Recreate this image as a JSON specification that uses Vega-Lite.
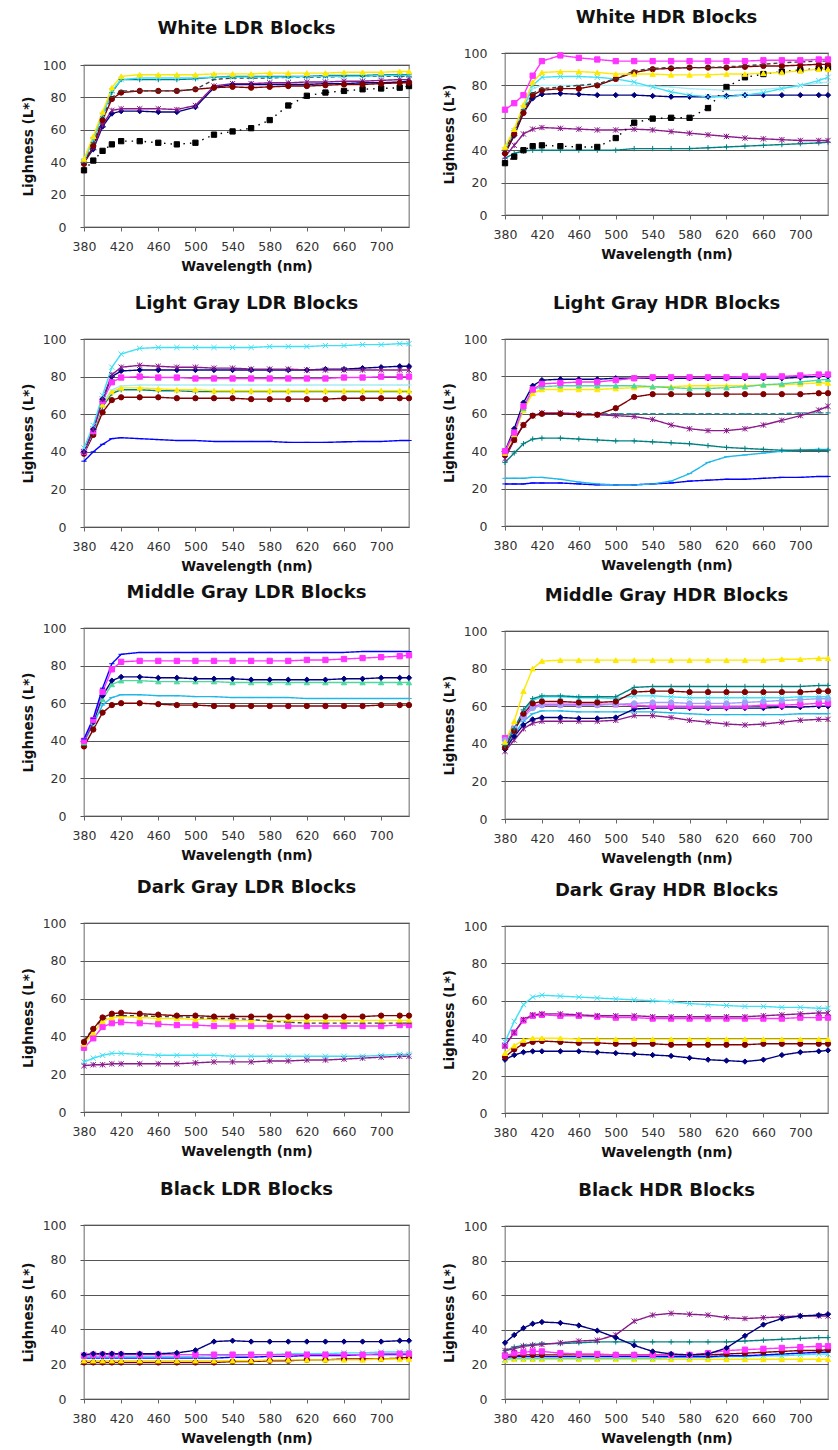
{
"$schema":"https://vega.github.io/schema/vega-lite/v6.json",
"padding":{"left":20,"top":8,"right":0,"bottom":0},
"background":"white",
"config":{
"view":{"stroke":"#8a8a8a","strokeWidth":1.3},
"font":"DejaVu Sans",
"title":{"fontSize":18,"fontWeight":"bold","offset":20,"color":"#111","font":"DejaVu Sans"},
"axis":{"labelFont":"DejaVu Sans","titleFont":"DejaVu Sans","labelFontSize":12.5,"labelColor":"#333","titleFontSize":13.5,"titleFontWeight":"bold","titleColor":"#111","domain":false,"tickColor":"#666","tickSize":4},
"axisX":{"grid":false,"labelPadding":9,"titlePadding":7,"labelFlush":false,"labelOverlap":false},
"axisY":{"gridColor":"#555","gridWidth":1.2,"labelPadding":14,"titlePadding":7,"tickColor":"#555"}
},
"datasets":{
"p1":[
{"s":"bk","x":380,"y":35},{"s":"bk","x":390,"y":41},{"s":"bk","x":400,"y":47},{"s":"bk","x":410,"y":51},{"s":"bk","x":420,"y":53},{"s":"bk","x":440,"y":53},{"s":"bk","x":460,"y":52},{"s":"bk","x":480,"y":51},{"s":"bk","x":500,"y":52},{"s":"bk","x":520,"y":57},{"s":"bk","x":540,"y":59},{"s":"bk","x":560,"y":61},{"s":"bk","x":580,"y":66},{"s":"bk","x":600,"y":75},{"s":"bk","x":620,"y":81},{"s":"bk","x":640,"y":83},{"s":"bk","x":660,"y":84},{"s":"bk","x":680,"y":85},{"s":"bk","x":700,"y":85.5},{"s":"bk","x":720,"y":86},{"s":"bk","x":730,"y":87},
{"s":"db","x":380,"y":40},{"s":"db","x":390,"y":48},{"s":"db","x":400,"y":62},{"s":"db","x":410,"y":70},{"s":"db","x":420,"y":71.5},{"s":"db","x":440,"y":71.5},{"s":"db","x":460,"y":71},{"s":"db","x":480,"y":71},{"s":"db","x":500,"y":74},{"s":"db","x":520,"y":86},{"s":"db","x":540,"y":88},{"s":"db","x":560,"y":88},{"s":"db","x":580,"y":88},{"s":"db","x":600,"y":88},{"s":"db","x":620,"y":88},{"s":"db","x":640,"y":88.5},{"s":"db","x":660,"y":88.5},{"s":"db","x":680,"y":89},{"s":"db","x":700,"y":89},{"s":"db","x":720,"y":89.5},{"s":"db","x":730,"y":90},
{"s":"pu","x":380,"y":40},{"s":"pu","x":390,"y":49},{"s":"pu","x":400,"y":63},{"s":"pu","x":410,"y":72},{"s":"pu","x":420,"y":73},{"s":"pu","x":440,"y":73},{"s":"pu","x":460,"y":73},{"s":"pu","x":480,"y":72.5},{"s":"pu","x":500,"y":75},{"s":"pu","x":520,"y":87},{"s":"pu","x":540,"y":88.5},{"s":"pu","x":560,"y":88.5},{"s":"pu","x":580,"y":89},{"s":"pu","x":600,"y":89},{"s":"pu","x":620,"y":89.5},{"s":"pu","x":640,"y":89.5},{"s":"pu","x":660,"y":90},{"s":"pu","x":680,"y":90},{"s":"pu","x":700,"y":90.5},{"s":"pu","x":720,"y":91},{"s":"pu","x":730,"y":91},
{"s":"dr","x":380,"y":39},{"s":"dr","x":390,"y":50},{"s":"dr","x":400,"y":66},{"s":"dr","x":410,"y":79},{"s":"dr","x":420,"y":83},{"s":"dr","x":440,"y":84},{"s":"dr","x":460,"y":84},{"s":"dr","x":480,"y":84},{"s":"dr","x":500,"y":85},{"s":"dr","x":520,"y":86},{"s":"dr","x":540,"y":86.5},{"s":"dr","x":560,"y":86},{"s":"dr","x":580,"y":86.5},{"s":"dr","x":600,"y":87},{"s":"dr","x":620,"y":87},{"s":"dr","x":640,"y":87.5},{"s":"dr","x":660,"y":88},{"s":"dr","x":680,"y":88},{"s":"dr","x":700,"y":88.5},{"s":"dr","x":720,"y":89},{"s":"dr","x":730,"y":89},
{"s":"dk","x":380,"y":40},{"s":"dk","x":390,"y":52},{"s":"dk","x":400,"y":68},{"s":"dk","x":410,"y":80},{"s":"dk","x":420,"y":84},{"s":"dk","x":440,"y":84},{"s":"dk","x":460,"y":84},{"s":"dk","x":480,"y":84},{"s":"dk","x":500,"y":85},{"s":"dk","x":520,"y":91},{"s":"dk","x":540,"y":92},{"s":"dk","x":560,"y":92},{"s":"dk","x":580,"y":92},{"s":"dk","x":600,"y":92.5},{"s":"dk","x":620,"y":92.5},{"s":"dk","x":640,"y":92.5},{"s":"dk","x":660,"y":93},{"s":"dk","x":680,"y":93},{"s":"dk","x":700,"y":93},{"s":"dk","x":720,"y":93},{"s":"dk","x":730,"y":93},
{"s":"tl","x":380,"y":41},{"s":"tl","x":390,"y":55},{"s":"tl","x":400,"y":70},{"s":"tl","x":410,"y":83},{"s":"tl","x":420,"y":91},{"s":"tl","x":440,"y":91},{"s":"tl","x":460,"y":91},{"s":"tl","x":480,"y":91},{"s":"tl","x":500,"y":91.5},{"s":"tl","x":520,"y":92.5},{"s":"tl","x":540,"y":93},{"s":"tl","x":560,"y":93},{"s":"tl","x":580,"y":93},{"s":"tl","x":600,"y":93},{"s":"tl","x":620,"y":93},{"s":"tl","x":640,"y":93.5},{"s":"tl","x":660,"y":93.5},{"s":"tl","x":680,"y":93.5},{"s":"tl","x":700,"y":94},{"s":"tl","x":720,"y":94},{"s":"tl","x":730,"y":94},
{"s":"cy","x":380,"y":41},{"s":"cy","x":390,"y":54},{"s":"cy","x":400,"y":69},{"s":"cy","x":410,"y":84},{"s":"cy","x":420,"y":91},{"s":"cy","x":440,"y":92},{"s":"cy","x":460,"y":92},{"s":"cy","x":480,"y":92},{"s":"cy","x":500,"y":92},{"s":"cy","x":520,"y":92.5},{"s":"cy","x":540,"y":92.5},{"s":"cy","x":560,"y":92.5},{"s":"cy","x":580,"y":92.5},{"s":"cy","x":600,"y":92.5},{"s":"cy","x":620,"y":93},{"s":"cy","x":640,"y":93},{"s":"cy","x":660,"y":93},{"s":"cy","x":680,"y":93},{"s":"cy","x":700,"y":93.5},{"s":"cy","x":720,"y":93.5},{"s":"cy","x":730,"y":93.5},
{"s":"ye","x":380,"y":42},{"s":"ye","x":390,"y":56},{"s":"ye","x":400,"y":71},{"s":"ye","x":410,"y":86},{"s":"ye","x":420,"y":93},{"s":"ye","x":440,"y":94},{"s":"ye","x":460,"y":94},{"s":"ye","x":480,"y":94},{"s":"ye","x":500,"y":94},{"s":"ye","x":520,"y":94.5},{"s":"ye","x":540,"y":94.5},{"s":"ye","x":560,"y":94.5},{"s":"ye","x":580,"y":95},{"s":"ye","x":600,"y":95},{"s":"ye","x":620,"y":95},{"s":"ye","x":640,"y":95},{"s":"ye","x":660,"y":95.5},{"s":"ye","x":680,"y":95.5},{"s":"ye","x":700,"y":95.5},{"s":"ye","x":720,"y":96},{"s":"ye","x":730,"y":96}
],
"p2":[
{"s":"tl","x":380,"y":35},{"s":"tl","x":390,"y":38},{"s":"tl","x":400,"y":39.5},{"s":"tl","x":410,"y":40},{"s":"tl","x":420,"y":40},{"s":"tl","x":440,"y":40},{"s":"tl","x":460,"y":40},{"s":"tl","x":480,"y":40},{"s":"tl","x":500,"y":40},{"s":"tl","x":520,"y":41},{"s":"tl","x":540,"y":41},{"s":"tl","x":560,"y":41},{"s":"tl","x":580,"y":41},{"s":"tl","x":600,"y":41.5},{"s":"tl","x":620,"y":42},{"s":"tl","x":640,"y":42.5},{"s":"tl","x":660,"y":43},{"s":"tl","x":680,"y":43.5},{"s":"tl","x":700,"y":44},{"s":"tl","x":720,"y":44.5},{"s":"tl","x":730,"y":45},
{"s":"pu","x":380,"y":36},{"s":"pu","x":390,"y":43},{"s":"pu","x":400,"y":50},{"s":"pu","x":410,"y":53},{"s":"pu","x":420,"y":54},{"s":"pu","x":440,"y":53.5},{"s":"pu","x":460,"y":53},{"s":"pu","x":480,"y":52.5},{"s":"pu","x":500,"y":52.5},{"s":"pu","x":520,"y":53},{"s":"pu","x":540,"y":52.5},{"s":"pu","x":560,"y":51.5},{"s":"pu","x":580,"y":50.5},{"s":"pu","x":600,"y":49.5},{"s":"pu","x":620,"y":48.5},{"s":"pu","x":640,"y":47.5},{"s":"pu","x":660,"y":47},{"s":"pu","x":680,"y":46.5},{"s":"pu","x":700,"y":46},{"s":"pu","x":720,"y":46},{"s":"pu","x":730,"y":46},
{"s":"bk","x":380,"y":32},{"s":"bk","x":390,"y":36},{"s":"bk","x":400,"y":40},{"s":"bk","x":410,"y":42.5},{"s":"bk","x":420,"y":43},{"s":"bk","x":440,"y":42.5},{"s":"bk","x":460,"y":42},{"s":"bk","x":480,"y":42},{"s":"bk","x":500,"y":47.5},{"s":"bk","x":520,"y":57},{"s":"bk","x":540,"y":59.5},{"s":"bk","x":560,"y":60},{"s":"bk","x":580,"y":60},{"s":"bk","x":600,"y":66},{"s":"bk","x":620,"y":79},{"s":"bk","x":640,"y":85},{"s":"bk","x":660,"y":87},{"s":"bk","x":680,"y":88.5},{"s":"bk","x":700,"y":89.5},{"s":"bk","x":720,"y":90.5},{"s":"bk","x":730,"y":91},
{"s":"db","x":380,"y":38},{"s":"db","x":390,"y":49},{"s":"db","x":400,"y":63},{"s":"db","x":410,"y":72},{"s":"db","x":420,"y":74.5},{"s":"db","x":440,"y":75},{"s":"db","x":460,"y":74.5},{"s":"db","x":480,"y":74},{"s":"db","x":500,"y":74},{"s":"db","x":520,"y":74},{"s":"db","x":540,"y":73.5},{"s":"db","x":560,"y":73},{"s":"db","x":580,"y":73},{"s":"db","x":600,"y":73},{"s":"db","x":620,"y":73.5},{"s":"db","x":640,"y":74},{"s":"db","x":660,"y":74},{"s":"db","x":680,"y":74},{"s":"db","x":700,"y":74},{"s":"db","x":720,"y":74},{"s":"db","x":730,"y":74},
{"s":"lc","x":380,"y":40},{"s":"lc","x":390,"y":52},{"s":"lc","x":400,"y":65},{"s":"lc","x":410,"y":78},{"s":"lc","x":420,"y":80},{"s":"lc","x":440,"y":80},{"s":"lc","x":460,"y":80},{"s":"lc","x":480,"y":80},{"s":"lc","x":500,"y":80},{"s":"lc","x":520,"y":80},{"s":"lc","x":540,"y":79.5},{"s":"lc","x":560,"y":79},{"s":"lc","x":580,"y":78},{"s":"lc","x":600,"y":77.5},{"s":"lc","x":620,"y":77},{"s":"lc","x":640,"y":77},{"s":"lc","x":660,"y":77.5},{"s":"lc","x":680,"y":78.5},{"s":"lc","x":700,"y":80},{"s":"lc","x":720,"y":81.5},{"s":"lc","x":730,"y":82},
{"s":"cy","x":380,"y":40},{"s":"cy","x":390,"y":52},{"s":"cy","x":400,"y":66},{"s":"cy","x":410,"y":80},{"s":"cy","x":420,"y":85},{"s":"cy","x":440,"y":85.5},{"s":"cy","x":460,"y":85.5},{"s":"cy","x":480,"y":85},{"s":"cy","x":500,"y":84},{"s":"cy","x":520,"y":82},{"s":"cy","x":540,"y":79},{"s":"cy","x":560,"y":76},{"s":"cy","x":580,"y":74},{"s":"cy","x":600,"y":73},{"s":"cy","x":620,"y":73},{"s":"cy","x":640,"y":74},{"s":"cy","x":660,"y":75.5},{"s":"cy","x":680,"y":78},{"s":"cy","x":700,"y":80},{"s":"cy","x":720,"y":83},{"s":"cy","x":730,"y":85},
{"s":"dr","x":380,"y":38},{"s":"dr","x":390,"y":50},{"s":"dr","x":400,"y":63},{"s":"dr","x":410,"y":74},{"s":"dr","x":420,"y":77},{"s":"dr","x":440,"y":78},{"s":"dr","x":460,"y":78},{"s":"dr","x":480,"y":80},{"s":"dr","x":500,"y":84},{"s":"dr","x":520,"y":88},{"s":"dr","x":540,"y":90},{"s":"dr","x":560,"y":90.5},{"s":"dr","x":580,"y":91},{"s":"dr","x":600,"y":91},{"s":"dr","x":620,"y":91},{"s":"dr","x":640,"y":91.5},{"s":"dr","x":660,"y":92},{"s":"dr","x":680,"y":92},{"s":"dr","x":700,"y":92.5},{"s":"dr","x":720,"y":93},{"s":"dr","x":730,"y":93},
{"s":"dk","x":380,"y":40},{"s":"dk","x":390,"y":52},{"s":"dk","x":400,"y":65},{"s":"dk","x":410,"y":75},{"s":"dk","x":420,"y":78},{"s":"dk","x":440,"y":79},{"s":"dk","x":460,"y":80},{"s":"dk","x":480,"y":81},{"s":"dk","x":500,"y":84},{"s":"dk","x":520,"y":89},{"s":"dk","x":540,"y":90.5},{"s":"dk","x":560,"y":91},{"s":"dk","x":580,"y":91},{"s":"dk","x":600,"y":91},{"s":"dk","x":620,"y":91.5},{"s":"dk","x":640,"y":92},{"s":"dk","x":660,"y":93},{"s":"dk","x":680,"y":94},{"s":"dk","x":700,"y":94.5},{"s":"dk","x":720,"y":95},{"s":"dk","x":730,"y":95},
{"s":"ye","x":380,"y":42},{"s":"ye","x":390,"y":53},{"s":"ye","x":400,"y":68},{"s":"ye","x":410,"y":82},{"s":"ye","x":420,"y":88},{"s":"ye","x":440,"y":88.5},{"s":"ye","x":460,"y":88.5},{"s":"ye","x":480,"y":88},{"s":"ye","x":500,"y":87},{"s":"ye","x":520,"y":87},{"s":"ye","x":540,"y":87},{"s":"ye","x":560,"y":86.5},{"s":"ye","x":580,"y":86.5},{"s":"ye","x":600,"y":86.5},{"s":"ye","x":620,"y":87},{"s":"ye","x":640,"y":87},{"s":"ye","x":660,"y":87.5},{"s":"ye","x":680,"y":88},{"s":"ye","x":700,"y":89},{"s":"ye","x":720,"y":90},{"s":"ye","x":730,"y":90},
{"s":"mg","x":380,"y":65},{"s":"mg","x":390,"y":69},{"s":"mg","x":400,"y":74},{"s":"mg","x":410,"y":86},{"s":"mg","x":420,"y":95},{"s":"mg","x":440,"y":98.5},{"s":"mg","x":460,"y":97},{"s":"mg","x":480,"y":96},{"s":"mg","x":500,"y":95},{"s":"mg","x":520,"y":95},{"s":"mg","x":540,"y":95},{"s":"mg","x":560,"y":95},{"s":"mg","x":580,"y":95},{"s":"mg","x":600,"y":95},{"s":"mg","x":620,"y":95},{"s":"mg","x":640,"y":95},{"s":"mg","x":660,"y":95.5},{"s":"mg","x":680,"y":95.5},{"s":"mg","x":700,"y":95.5},{"s":"mg","x":720,"y":96},{"s":"mg","x":730,"y":96}
],
"p3":[
{"s":"bl","x":380,"y":35},{"s":"bl","x":390,"y":40},{"s":"bl","x":400,"y":44},{"s":"bl","x":410,"y":47},{"s":"bl","x":420,"y":47.5},{"s":"bl","x":440,"y":47},{"s":"bl","x":460,"y":46.5},{"s":"bl","x":480,"y":46},{"s":"bl","x":500,"y":46},{"s":"bl","x":520,"y":45.5},{"s":"bl","x":540,"y":45.5},{"s":"bl","x":560,"y":45.5},{"s":"bl","x":580,"y":45.5},{"s":"bl","x":600,"y":45},{"s":"bl","x":620,"y":45},{"s":"bl","x":640,"y":45},{"s":"bl","x":660,"y":45.3},{"s":"bl","x":680,"y":45.5},{"s":"bl","x":700,"y":45.5},{"s":"bl","x":720,"y":46},{"s":"bl","x":730,"y":46},
{"s":"dr","x":380,"y":39},{"s":"dr","x":390,"y":49},{"s":"dr","x":400,"y":61},{"s":"dr","x":410,"y":67.5},{"s":"dr","x":420,"y":69},{"s":"dr","x":440,"y":69},{"s":"dr","x":460,"y":69},{"s":"dr","x":480,"y":68.5},{"s":"dr","x":500,"y":68.5},{"s":"dr","x":520,"y":68.5},{"s":"dr","x":540,"y":68.5},{"s":"dr","x":560,"y":68},{"s":"dr","x":580,"y":68},{"s":"dr","x":600,"y":68},{"s":"dr","x":620,"y":68},{"s":"dr","x":640,"y":68},{"s":"dr","x":660,"y":68.5},{"s":"dr","x":680,"y":68.5},{"s":"dr","x":700,"y":68.5},{"s":"dr","x":720,"y":68.5},{"s":"dr","x":730,"y":68.5},
{"s":"tl","x":380,"y":40},{"s":"tl","x":390,"y":50},{"s":"tl","x":400,"y":64},{"s":"tl","x":410,"y":71},{"s":"tl","x":420,"y":73},{"s":"tl","x":440,"y":73},{"s":"tl","x":460,"y":72.5},{"s":"tl","x":480,"y":72.5},{"s":"tl","x":500,"y":72},{"s":"tl","x":520,"y":72},{"s":"tl","x":540,"y":72},{"s":"tl","x":560,"y":72},{"s":"tl","x":580,"y":72},{"s":"tl","x":600,"y":72},{"s":"tl","x":620,"y":72},{"s":"tl","x":640,"y":72},{"s":"tl","x":660,"y":72},{"s":"tl","x":680,"y":72},{"s":"tl","x":700,"y":72},{"s":"tl","x":720,"y":72},{"s":"tl","x":730,"y":72},
{"s":"ye","x":380,"y":40},{"s":"ye","x":390,"y":51},{"s":"ye","x":400,"y":65},{"s":"ye","x":410,"y":72},{"s":"ye","x":420,"y":74},{"s":"ye","x":440,"y":74},{"s":"ye","x":460,"y":73.5},{"s":"ye","x":480,"y":73},{"s":"ye","x":500,"y":73},{"s":"ye","x":520,"y":72.5},{"s":"ye","x":540,"y":72.5},{"s":"ye","x":560,"y":72.5},{"s":"ye","x":580,"y":72.5},{"s":"ye","x":600,"y":72.5},{"s":"ye","x":620,"y":72.5},{"s":"ye","x":640,"y":72.5},{"s":"ye","x":660,"y":72.5},{"s":"ye","x":680,"y":72.5},{"s":"ye","x":700,"y":72.5},{"s":"ye","x":720,"y":72.5},{"s":"ye","x":730,"y":72.5},
{"s":"lc","x":380,"y":40},{"s":"lc","x":390,"y":51},{"s":"lc","x":400,"y":66},{"s":"lc","x":410,"y":73},{"s":"lc","x":420,"y":75},{"s":"lc","x":440,"y":75.5},{"s":"lc","x":460,"y":75.5},{"s":"lc","x":480,"y":75.5},{"s":"lc","x":500,"y":75.5},{"s":"lc","x":520,"y":75.5},{"s":"lc","x":540,"y":75.5},{"s":"lc","x":560,"y":75.5},{"s":"lc","x":580,"y":75.5},{"s":"lc","x":600,"y":75.5},{"s":"lc","x":620,"y":75.5},{"s":"lc","x":640,"y":75.5},{"s":"lc","x":660,"y":75.5},{"s":"lc","x":680,"y":75.5},{"s":"lc","x":700,"y":75.5},{"s":"lc","x":720,"y":75.5},{"s":"lc","x":730,"y":75.5},
{"s":"mg","x":380,"y":40},{"s":"mg","x":390,"y":51},{"s":"mg","x":400,"y":67},{"s":"mg","x":410,"y":77},{"s":"mg","x":420,"y":79.5},{"s":"mg","x":440,"y":80},{"s":"mg","x":460,"y":79.5},{"s":"mg","x":480,"y":79.5},{"s":"mg","x":500,"y":79},{"s":"mg","x":520,"y":79},{"s":"mg","x":540,"y":79},{"s":"mg","x":560,"y":79},{"s":"mg","x":580,"y":79},{"s":"mg","x":600,"y":79},{"s":"mg","x":620,"y":79},{"s":"mg","x":640,"y":79},{"s":"mg","x":660,"y":79.5},{"s":"mg","x":680,"y":79.5},{"s":"mg","x":700,"y":80},{"s":"mg","x":720,"y":80},{"s":"mg","x":730,"y":80},
{"s":"db","x":380,"y":40},{"s":"db","x":390,"y":52},{"s":"db","x":400,"y":68},{"s":"db","x":410,"y":80},{"s":"db","x":420,"y":83},{"s":"db","x":440,"y":83.5},{"s":"db","x":460,"y":83.5},{"s":"db","x":480,"y":83.5},{"s":"db","x":500,"y":83.5},{"s":"db","x":520,"y":83.5},{"s":"db","x":540,"y":83.5},{"s":"db","x":560,"y":83.5},{"s":"db","x":580,"y":83.5},{"s":"db","x":600,"y":83.5},{"s":"db","x":620,"y":83.5},{"s":"db","x":640,"y":84},{"s":"db","x":660,"y":84},{"s":"db","x":680,"y":84.5},{"s":"db","x":700,"y":85},{"s":"db","x":720,"y":85.5},{"s":"db","x":730,"y":85.5},
{"s":"pu","x":380,"y":40},{"s":"pu","x":390,"y":52},{"s":"pu","x":400,"y":68},{"s":"pu","x":410,"y":81},{"s":"pu","x":420,"y":85},{"s":"pu","x":440,"y":86},{"s":"pu","x":460,"y":85.5},{"s":"pu","x":480,"y":85},{"s":"pu","x":500,"y":85},{"s":"pu","x":520,"y":84.5},{"s":"pu","x":540,"y":84.5},{"s":"pu","x":560,"y":84},{"s":"pu","x":580,"y":84},{"s":"pu","x":600,"y":84},{"s":"pu","x":620,"y":83.5},{"s":"pu","x":640,"y":83.5},{"s":"pu","x":660,"y":83.5},{"s":"pu","x":680,"y":83.5},{"s":"pu","x":700,"y":83.5},{"s":"pu","x":720,"y":83.5},{"s":"pu","x":730,"y":83.5},
{"s":"cy","x":380,"y":42},{"s":"cy","x":390,"y":54},{"s":"cy","x":400,"y":70},{"s":"cy","x":410,"y":85},{"s":"cy","x":420,"y":92},{"s":"cy","x":440,"y":95},{"s":"cy","x":460,"y":95.5},{"s":"cy","x":480,"y":95.5},{"s":"cy","x":500,"y":95.5},{"s":"cy","x":520,"y":95.5},{"s":"cy","x":540,"y":95.5},{"s":"cy","x":560,"y":95.5},{"s":"cy","x":580,"y":96},{"s":"cy","x":600,"y":96},{"s":"cy","x":620,"y":96},{"s":"cy","x":640,"y":96.5},{"s":"cy","x":660,"y":96.5},{"s":"cy","x":680,"y":97},{"s":"cy","x":700,"y":97},{"s":"cy","x":720,"y":97.5},{"s":"cy","x":730,"y":97.5}
],
"p4":[
{"s":"bl","x":380,"y":22.5},{"s":"bl","x":390,"y":22.5},{"s":"bl","x":400,"y":22.5},{"s":"bl","x":410,"y":23},{"s":"bl","x":420,"y":23},{"s":"bl","x":440,"y":23},{"s":"bl","x":460,"y":22.5},{"s":"bl","x":480,"y":22},{"s":"bl","x":500,"y":22},{"s":"bl","x":520,"y":22},{"s":"bl","x":540,"y":22.5},{"s":"bl","x":560,"y":23},{"s":"bl","x":580,"y":24},{"s":"bl","x":600,"y":24.5},{"s":"bl","x":620,"y":25},{"s":"bl","x":640,"y":25},{"s":"bl","x":660,"y":25.5},{"s":"bl","x":680,"y":26},{"s":"bl","x":700,"y":26},{"s":"bl","x":720,"y":26.5},{"s":"bl","x":730,"y":26.5},
{"s":"cl","x":380,"y":25.5},{"s":"cl","x":390,"y":25.5},{"s":"cl","x":400,"y":25.5},{"s":"cl","x":410,"y":26},{"s":"cl","x":420,"y":26},{"s":"cl","x":440,"y":25},{"s":"cl","x":460,"y":23.5},{"s":"cl","x":480,"y":22.5},{"s":"cl","x":500,"y":22},{"s":"cl","x":520,"y":22},{"s":"cl","x":540,"y":22.5},{"s":"cl","x":560,"y":24},{"s":"cl","x":580,"y":28},{"s":"cl","x":600,"y":34},{"s":"cl","x":620,"y":37},{"s":"cl","x":640,"y":38},{"s":"cl","x":660,"y":39},{"s":"cl","x":680,"y":40},{"s":"cl","x":700,"y":40.5},{"s":"cl","x":720,"y":41},{"s":"cl","x":730,"y":41},
{"s":"tl","x":380,"y":34},{"s":"tl","x":390,"y":39},{"s":"tl","x":400,"y":44},{"s":"tl","x":410,"y":46.5},{"s":"tl","x":420,"y":47},{"s":"tl","x":440,"y":47},{"s":"tl","x":460,"y":46.5},{"s":"tl","x":480,"y":46},{"s":"tl","x":500,"y":45.5},{"s":"tl","x":520,"y":45.5},{"s":"tl","x":540,"y":45},{"s":"tl","x":560,"y":44.5},{"s":"tl","x":580,"y":44},{"s":"tl","x":600,"y":43},{"s":"tl","x":620,"y":42},{"s":"tl","x":640,"y":41.5},{"s":"tl","x":660,"y":41},{"s":"tl","x":680,"y":40.5},{"s":"tl","x":700,"y":40.5},{"s":"tl","x":720,"y":40.5},{"s":"tl","x":730,"y":40.5},
{"s":"dc","x":380,"y":37},{"s":"dc","x":390,"y":46},{"s":"dc","x":400,"y":54},{"s":"dc","x":410,"y":59},{"s":"dc","x":420,"y":60},{"s":"dc","x":440,"y":60},{"s":"dc","x":460,"y":60},{"s":"dc","x":480,"y":60},{"s":"dc","x":500,"y":60},{"s":"dc","x":520,"y":60},{"s":"dc","x":540,"y":60},{"s":"dc","x":560,"y":60},{"s":"dc","x":580,"y":60},{"s":"dc","x":600,"y":60},{"s":"dc","x":620,"y":60},{"s":"dc","x":640,"y":60},{"s":"dc","x":660,"y":60},{"s":"dc","x":680,"y":60},{"s":"dc","x":700,"y":60.5},{"s":"dc","x":720,"y":60.5},{"s":"dc","x":730,"y":60.5},
{"s":"pu","x":380,"y":36},{"s":"pu","x":390,"y":46},{"s":"pu","x":400,"y":54},{"s":"pu","x":410,"y":59},{"s":"pu","x":420,"y":60.5},{"s":"pu","x":440,"y":60.5},{"s":"pu","x":460,"y":60},{"s":"pu","x":480,"y":59.5},{"s":"pu","x":500,"y":59},{"s":"pu","x":520,"y":58.5},{"s":"pu","x":540,"y":57},{"s":"pu","x":560,"y":54},{"s":"pu","x":580,"y":52},{"s":"pu","x":600,"y":51},{"s":"pu","x":620,"y":51},{"s":"pu","x":640,"y":52},{"s":"pu","x":660,"y":54},{"s":"pu","x":680,"y":56.5},{"s":"pu","x":700,"y":59},{"s":"pu","x":720,"y":62},{"s":"pu","x":730,"y":64},
{"s":"dr","x":380,"y":38},{"s":"dr","x":390,"y":46},{"s":"dr","x":400,"y":54},{"s":"dr","x":410,"y":59},{"s":"dr","x":420,"y":60},{"s":"dr","x":440,"y":60},{"s":"dr","x":460,"y":59.5},{"s":"dr","x":480,"y":59.5},{"s":"dr","x":500,"y":63},{"s":"dr","x":520,"y":69},{"s":"dr","x":540,"y":70.5},{"s":"dr","x":560,"y":70.5},{"s":"dr","x":580,"y":70.5},{"s":"dr","x":600,"y":70.5},{"s":"dr","x":620,"y":70.5},{"s":"dr","x":640,"y":70.5},{"s":"dr","x":660,"y":70.5},{"s":"dr","x":680,"y":70.5},{"s":"dr","x":700,"y":70.5},{"s":"dr","x":720,"y":71},{"s":"dr","x":730,"y":71},
{"s":"ye","x":380,"y":39},{"s":"ye","x":390,"y":49},{"s":"ye","x":400,"y":62},{"s":"ye","x":410,"y":71},{"s":"ye","x":420,"y":73},{"s":"ye","x":440,"y":73},{"s":"ye","x":460,"y":73},{"s":"ye","x":480,"y":73},{"s":"ye","x":500,"y":73.5},{"s":"ye","x":520,"y":74},{"s":"ye","x":540,"y":74.5},{"s":"ye","x":560,"y":74.5},{"s":"ye","x":580,"y":75},{"s":"ye","x":600,"y":75},{"s":"ye","x":620,"y":75},{"s":"ye","x":640,"y":75},{"s":"ye","x":660,"y":75.5},{"s":"ye","x":680,"y":75.5},{"s":"ye","x":700,"y":76},{"s":"ye","x":720,"y":76.5},{"s":"ye","x":730,"y":76.5},
{"s":"lg","x":380,"y":40},{"s":"lg","x":390,"y":50},{"s":"lg","x":400,"y":63},{"s":"lg","x":410,"y":73},{"s":"lg","x":420,"y":74.5},{"s":"lg","x":440,"y":75},{"s":"lg","x":460,"y":75},{"s":"lg","x":480,"y":75},{"s":"lg","x":500,"y":75},{"s":"lg","x":520,"y":75},{"s":"lg","x":540,"y":74.5},{"s":"lg","x":560,"y":74},{"s":"lg","x":580,"y":73.5},{"s":"lg","x":600,"y":73.5},{"s":"lg","x":620,"y":74},{"s":"lg","x":640,"y":74.5},{"s":"lg","x":660,"y":75.5},{"s":"lg","x":680,"y":76},{"s":"lg","x":700,"y":77},{"s":"lg","x":720,"y":78},{"s":"lg","x":730,"y":78.5},
{"s":"db","x":380,"y":40},{"s":"db","x":390,"y":52},{"s":"db","x":400,"y":66},{"s":"db","x":410,"y":75},{"s":"db","x":420,"y":78},{"s":"db","x":440,"y":78.5},{"s":"db","x":460,"y":78.5},{"s":"db","x":480,"y":78.5},{"s":"db","x":500,"y":79},{"s":"db","x":520,"y":79},{"s":"db","x":540,"y":79},{"s":"db","x":560,"y":79},{"s":"db","x":580,"y":79},{"s":"db","x":600,"y":79},{"s":"db","x":620,"y":79},{"s":"db","x":640,"y":79},{"s":"db","x":660,"y":79},{"s":"db","x":680,"y":79},{"s":"db","x":700,"y":79.5},{"s":"db","x":720,"y":80},{"s":"db","x":730,"y":80},
{"s":"mg","x":380,"y":40},{"s":"mg","x":390,"y":50},{"s":"mg","x":400,"y":64},{"s":"mg","x":410,"y":73},{"s":"mg","x":420,"y":76},{"s":"mg","x":440,"y":76.5},{"s":"mg","x":460,"y":77},{"s":"mg","x":480,"y":77},{"s":"mg","x":500,"y":78},{"s":"mg","x":520,"y":79},{"s":"mg","x":540,"y":79.5},{"s":"mg","x":560,"y":79.5},{"s":"mg","x":580,"y":79.5},{"s":"mg","x":600,"y":79.5},{"s":"mg","x":620,"y":79.5},{"s":"mg","x":640,"y":80},{"s":"mg","x":660,"y":80},{"s":"mg","x":680,"y":80},{"s":"mg","x":700,"y":80.5},{"s":"mg","x":720,"y":81},{"s":"mg","x":730,"y":81}
],
"p5":[
{"s":"dr","x":380,"y":37},{"s":"dr","x":390,"y":46},{"s":"dr","x":400,"y":55},{"s":"dr","x":410,"y":59},{"s":"dr","x":420,"y":60},{"s":"dr","x":440,"y":60},{"s":"dr","x":460,"y":59.5},{"s":"dr","x":480,"y":59},{"s":"dr","x":500,"y":59},{"s":"dr","x":520,"y":58.5},{"s":"dr","x":540,"y":58.5},{"s":"dr","x":560,"y":58.5},{"s":"dr","x":580,"y":58.5},{"s":"dr","x":600,"y":58.5},{"s":"dr","x":620,"y":58.5},{"s":"dr","x":640,"y":58.5},{"s":"dr","x":660,"y":58.5},{"s":"dr","x":680,"y":58.5},{"s":"dr","x":700,"y":59},{"s":"dr","x":720,"y":59},{"s":"dr","x":730,"y":59},
{"s":"cl","x":380,"y":39},{"s":"cl","x":390,"y":49},{"s":"cl","x":400,"y":59},{"s":"cl","x":410,"y":63},{"s":"cl","x":420,"y":64.5},{"s":"cl","x":440,"y":64.5},{"s":"cl","x":460,"y":64},{"s":"cl","x":480,"y":64},{"s":"cl","x":500,"y":63.5},{"s":"cl","x":520,"y":63.5},{"s":"cl","x":540,"y":63},{"s":"cl","x":560,"y":63},{"s":"cl","x":580,"y":63},{"s":"cl","x":600,"y":63},{"s":"cl","x":620,"y":62.5},{"s":"cl","x":640,"y":62.5},{"s":"cl","x":660,"y":62.5},{"s":"cl","x":680,"y":62.5},{"s":"cl","x":700,"y":62.5},{"s":"cl","x":720,"y":62.5},{"s":"cl","x":730,"y":62.5},
{"s":"lg","x":380,"y":39},{"s":"lg","x":390,"y":50},{"s":"lg","x":400,"y":62},{"s":"lg","x":410,"y":70},{"s":"lg","x":420,"y":72},{"s":"lg","x":440,"y":72},{"s":"lg","x":460,"y":71.5},{"s":"lg","x":480,"y":71.5},{"s":"lg","x":500,"y":71.5},{"s":"lg","x":520,"y":71.5},{"s":"lg","x":540,"y":71},{"s":"lg","x":560,"y":71},{"s":"lg","x":580,"y":71},{"s":"lg","x":600,"y":71},{"s":"lg","x":620,"y":71},{"s":"lg","x":640,"y":71},{"s":"lg","x":660,"y":71},{"s":"lg","x":680,"y":71},{"s":"lg","x":700,"y":71},{"s":"lg","x":720,"y":71},{"s":"lg","x":730,"y":71},
{"s":"db","x":380,"y":40},{"s":"db","x":390,"y":50},{"s":"db","x":400,"y":64},{"s":"db","x":410,"y":72},{"s":"db","x":420,"y":74},{"s":"db","x":440,"y":74},{"s":"db","x":460,"y":73.5},{"s":"db","x":480,"y":73.5},{"s":"db","x":500,"y":73},{"s":"db","x":520,"y":73},{"s":"db","x":540,"y":73},{"s":"db","x":560,"y":72.5},{"s":"db","x":580,"y":72.5},{"s":"db","x":600,"y":72.5},{"s":"db","x":620,"y":72.5},{"s":"db","x":640,"y":72.5},{"s":"db","x":660,"y":73},{"s":"db","x":680,"y":73},{"s":"db","x":700,"y":73.5},{"s":"db","x":720,"y":73.5},{"s":"db","x":730,"y":73.5},
{"s":"mg","x":380,"y":40},{"s":"mg","x":390,"y":51},{"s":"mg","x":400,"y":66},{"s":"mg","x":410,"y":78},{"s":"mg","x":420,"y":82},{"s":"mg","x":440,"y":82.5},{"s":"mg","x":460,"y":82.5},{"s":"mg","x":480,"y":82.5},{"s":"mg","x":500,"y":82.5},{"s":"mg","x":520,"y":82.5},{"s":"mg","x":540,"y":82.5},{"s":"mg","x":560,"y":82.5},{"s":"mg","x":580,"y":82.5},{"s":"mg","x":600,"y":82.5},{"s":"mg","x":620,"y":83},{"s":"mg","x":640,"y":83},{"s":"mg","x":660,"y":83.5},{"s":"mg","x":680,"y":84},{"s":"mg","x":700,"y":84.5},{"s":"mg","x":720,"y":85},{"s":"mg","x":730,"y":85.5},
{"s":"bl","x":380,"y":41},{"s":"bl","x":390,"y":52},{"s":"bl","x":400,"y":68},{"s":"bl","x":410,"y":81},{"s":"bl","x":420,"y":86},{"s":"bl","x":440,"y":87},{"s":"bl","x":460,"y":87},{"s":"bl","x":480,"y":87},{"s":"bl","x":500,"y":87},{"s":"bl","x":520,"y":87},{"s":"bl","x":540,"y":87},{"s":"bl","x":560,"y":87},{"s":"bl","x":580,"y":87},{"s":"bl","x":600,"y":87},{"s":"bl","x":620,"y":87},{"s":"bl","x":640,"y":87},{"s":"bl","x":660,"y":87},{"s":"bl","x":680,"y":87.5},{"s":"bl","x":700,"y":87.5},{"s":"bl","x":720,"y":87.5},{"s":"bl","x":730,"y":87.5}
],
"p6":[
{"s":"pu","x":380,"y":36},{"s":"pu","x":390,"y":42},{"s":"pu","x":400,"y":48},{"s":"pu","x":410,"y":51},{"s":"pu","x":420,"y":52},{"s":"pu","x":440,"y":52},{"s":"pu","x":460,"y":52},{"s":"pu","x":480,"y":52},{"s":"pu","x":500,"y":52.5},{"s":"pu","x":520,"y":55},{"s":"pu","x":540,"y":55},{"s":"pu","x":560,"y":54},{"s":"pu","x":580,"y":52.5},{"s":"pu","x":600,"y":51.5},{"s":"pu","x":620,"y":50.5},{"s":"pu","x":640,"y":50},{"s":"pu","x":660,"y":50.5},{"s":"pu","x":680,"y":51.5},{"s":"pu","x":700,"y":52.5},{"s":"pu","x":720,"y":53},{"s":"pu","x":730,"y":53},
{"s":"cl","x":380,"y":38},{"s":"cl","x":390,"y":45},{"s":"cl","x":400,"y":52},{"s":"cl","x":410,"y":56},{"s":"cl","x":420,"y":57.5},{"s":"cl","x":440,"y":57.5},{"s":"cl","x":460,"y":57},{"s":"cl","x":480,"y":57},{"s":"cl","x":500,"y":57},{"s":"cl","x":520,"y":57},{"s":"cl","x":540,"y":57},{"s":"cl","x":560,"y":56.5},{"s":"cl","x":580,"y":56},{"s":"cl","x":600,"y":55.5},{"s":"cl","x":620,"y":55.5},{"s":"cl","x":640,"y":55.5},{"s":"cl","x":660,"y":55.5},{"s":"cl","x":680,"y":55.5},{"s":"cl","x":700,"y":56},{"s":"cl","x":720,"y":56},{"s":"cl","x":730,"y":56},
{"s":"db","x":380,"y":37},{"s":"db","x":390,"y":44},{"s":"db","x":400,"y":50},{"s":"db","x":410,"y":53},{"s":"db","x":420,"y":54},{"s":"db","x":440,"y":54},{"s":"db","x":460,"y":53.5},{"s":"db","x":480,"y":53.5},{"s":"db","x":500,"y":54},{"s":"db","x":520,"y":58.5},{"s":"db","x":540,"y":59},{"s":"db","x":560,"y":59},{"s":"db","x":580,"y":59},{"s":"db","x":600,"y":59},{"s":"db","x":620,"y":59},{"s":"db","x":640,"y":59},{"s":"db","x":660,"y":59},{"s":"db","x":680,"y":59.5},{"s":"db","x":700,"y":59.5},{"s":"db","x":720,"y":60},{"s":"db","x":730,"y":60},
{"s":"mg","x":380,"y":43},{"s":"mg","x":390,"y":48},{"s":"mg","x":400,"y":55},{"s":"mg","x":410,"y":60},{"s":"mg","x":420,"y":61},{"s":"mg","x":440,"y":61},{"s":"mg","x":460,"y":61},{"s":"mg","x":480,"y":61},{"s":"mg","x":500,"y":61},{"s":"mg","x":520,"y":60.5},{"s":"mg","x":540,"y":60},{"s":"mg","x":560,"y":60},{"s":"mg","x":580,"y":60},{"s":"mg","x":600,"y":60},{"s":"mg","x":620,"y":60},{"s":"mg","x":640,"y":60},{"s":"mg","x":660,"y":60.5},{"s":"mg","x":680,"y":60.5},{"s":"mg","x":700,"y":61},{"s":"mg","x":720,"y":61.5},{"s":"mg","x":730,"y":61.5},
{"s":"lv","x":380,"y":42},{"s":"lv","x":390,"y":48},{"s":"lv","x":400,"y":54},{"s":"lv","x":410,"y":59},{"s":"lv","x":420,"y":60.5},{"s":"lv","x":440,"y":60.5},{"s":"lv","x":460,"y":60.5},{"s":"lv","x":480,"y":60.5},{"s":"lv","x":500,"y":61},{"s":"lv","x":520,"y":61.5},{"s":"lv","x":540,"y":62},{"s":"lv","x":560,"y":62},{"s":"lv","x":580,"y":61.5},{"s":"lv","x":600,"y":61.5},{"s":"lv","x":620,"y":61.5},{"s":"lv","x":640,"y":62},{"s":"lv","x":660,"y":62.5},{"s":"lv","x":680,"y":63},{"s":"lv","x":700,"y":63.5},{"s":"lv","x":720,"y":64},{"s":"lv","x":730,"y":64},
{"s":"cy","x":380,"y":39},{"s":"cy","x":390,"y":48},{"s":"cy","x":400,"y":57},{"s":"cy","x":410,"y":63},{"s":"cy","x":420,"y":65},{"s":"cy","x":440,"y":65},{"s":"cy","x":460,"y":64.5},{"s":"cy","x":480,"y":64.5},{"s":"cy","x":500,"y":64},{"s":"cy","x":520,"y":65.5},{"s":"cy","x":540,"y":65.5},{"s":"cy","x":560,"y":65},{"s":"cy","x":580,"y":64.5},{"s":"cy","x":600,"y":64.5},{"s":"cy","x":620,"y":64.5},{"s":"cy","x":640,"y":64.5},{"s":"cy","x":660,"y":64.5},{"s":"cy","x":680,"y":64.5},{"s":"cy","x":700,"y":65},{"s":"cy","x":720,"y":65},{"s":"cy","x":730,"y":65},
{"s":"dr","x":380,"y":38},{"s":"dr","x":390,"y":47},{"s":"dr","x":400,"y":56},{"s":"dr","x":410,"y":61.5},{"s":"dr","x":420,"y":62.5},{"s":"dr","x":440,"y":62.5},{"s":"dr","x":460,"y":62},{"s":"dr","x":480,"y":62},{"s":"dr","x":500,"y":62.5},{"s":"dr","x":520,"y":67.5},{"s":"dr","x":540,"y":68},{"s":"dr","x":560,"y":68},{"s":"dr","x":580,"y":67.5},{"s":"dr","x":600,"y":67.5},{"s":"dr","x":620,"y":67.5},{"s":"dr","x":640,"y":67.5},{"s":"dr","x":660,"y":67.5},{"s":"dr","x":680,"y":67.5},{"s":"dr","x":700,"y":67.5},{"s":"dr","x":720,"y":68},{"s":"dr","x":730,"y":68},
{"s":"tl","x":380,"y":39},{"s":"tl","x":390,"y":48},{"s":"tl","x":400,"y":58},{"s":"tl","x":410,"y":64},{"s":"tl","x":420,"y":65.5},{"s":"tl","x":440,"y":65.5},{"s":"tl","x":460,"y":65},{"s":"tl","x":480,"y":65},{"s":"tl","x":500,"y":65},{"s":"tl","x":520,"y":70},{"s":"tl","x":540,"y":70.5},{"s":"tl","x":560,"y":70.5},{"s":"tl","x":580,"y":70.5},{"s":"tl","x":600,"y":70.5},{"s":"tl","x":620,"y":70.5},{"s":"tl","x":640,"y":70.5},{"s":"tl","x":660,"y":70.5},{"s":"tl","x":680,"y":70.5},{"s":"tl","x":700,"y":70.5},{"s":"tl","x":720,"y":71},{"s":"tl","x":730,"y":71},
{"s":"ye","x":380,"y":41},{"s":"ye","x":390,"y":52},{"s":"ye","x":400,"y":68},{"s":"ye","x":410,"y":80},{"s":"ye","x":420,"y":84},{"s":"ye","x":440,"y":84.5},{"s":"ye","x":460,"y":84.5},{"s":"ye","x":480,"y":84.5},{"s":"ye","x":500,"y":84.5},{"s":"ye","x":520,"y":84.5},{"s":"ye","x":540,"y":84.5},{"s":"ye","x":560,"y":84.5},{"s":"ye","x":580,"y":84.5},{"s":"ye","x":600,"y":84.5},{"s":"ye","x":620,"y":84.5},{"s":"ye","x":640,"y":84.5},{"s":"ye","x":660,"y":84.5},{"s":"ye","x":680,"y":85},{"s":"ye","x":700,"y":85},{"s":"ye","x":720,"y":85.5},{"s":"ye","x":730,"y":85.5}
],
"p7":[
{"s":"pu","x":380,"y":24.5},{"s":"pu","x":390,"y":25},{"s":"pu","x":400,"y":25},{"s":"pu","x":410,"y":25.5},{"s":"pu","x":420,"y":25.5},{"s":"pu","x":440,"y":25.5},{"s":"pu","x":460,"y":25.5},{"s":"pu","x":480,"y":25.5},{"s":"pu","x":500,"y":26},{"s":"pu","x":520,"y":26.5},{"s":"pu","x":540,"y":26.5},{"s":"pu","x":560,"y":26.5},{"s":"pu","x":580,"y":27},{"s":"pu","x":600,"y":27},{"s":"pu","x":620,"y":27.5},{"s":"pu","x":640,"y":27.5},{"s":"pu","x":660,"y":28},{"s":"pu","x":680,"y":28.5},{"s":"pu","x":700,"y":29},{"s":"pu","x":720,"y":29.5},{"s":"pu","x":730,"y":29.5},
{"s":"cy","x":380,"y":26.5},{"s":"cy","x":390,"y":28.5},{"s":"cy","x":400,"y":30},{"s":"cy","x":410,"y":31},{"s":"cy","x":420,"y":31},{"s":"cy","x":440,"y":30.5},{"s":"cy","x":460,"y":30},{"s":"cy","x":480,"y":30},{"s":"cy","x":500,"y":30},{"s":"cy","x":520,"y":30},{"s":"cy","x":540,"y":29.5},{"s":"cy","x":560,"y":29.5},{"s":"cy","x":580,"y":29.5},{"s":"cy","x":600,"y":29.5},{"s":"cy","x":620,"y":29.5},{"s":"cy","x":640,"y":29.5},{"s":"cy","x":660,"y":29.5},{"s":"cy","x":680,"y":29.5},{"s":"cy","x":700,"y":30},{"s":"cy","x":720,"y":30.5},{"s":"cy","x":730,"y":30.5},
{"s":"mg","x":380,"y":34},{"s":"mg","x":390,"y":39},{"s":"mg","x":400,"y":45},{"s":"mg","x":410,"y":47},{"s":"mg","x":420,"y":47.5},{"s":"mg","x":440,"y":47},{"s":"mg","x":460,"y":46.5},{"s":"mg","x":480,"y":46},{"s":"mg","x":500,"y":46},{"s":"mg","x":520,"y":45.5},{"s":"mg","x":540,"y":45.5},{"s":"mg","x":560,"y":45.5},{"s":"mg","x":580,"y":45.5},{"s":"mg","x":600,"y":45.5},{"s":"mg","x":620,"y":45.5},{"s":"mg","x":640,"y":45.5},{"s":"mg","x":660,"y":45.5},{"s":"mg","x":680,"y":45.5},{"s":"mg","x":700,"y":45.5},{"s":"mg","x":720,"y":46},{"s":"mg","x":730,"y":46},
{"s":"ye","x":380,"y":36},{"s":"ye","x":390,"y":42},{"s":"ye","x":400,"y":48},{"s":"ye","x":410,"y":50},{"s":"ye","x":420,"y":50.5},{"s":"ye","x":440,"y":50},{"s":"ye","x":460,"y":49.5},{"s":"ye","x":480,"y":49.5},{"s":"ye","x":500,"y":49},{"s":"ye","x":520,"y":49},{"s":"ye","x":540,"y":48.5},{"s":"ye","x":560,"y":48.5},{"s":"ye","x":580,"y":48.5},{"s":"ye","x":600,"y":48.5},{"s":"ye","x":620,"y":48.5},{"s":"ye","x":640,"y":48.5},{"s":"ye","x":660,"y":48.5},{"s":"ye","x":680,"y":48.5},{"s":"ye","x":700,"y":48.5},{"s":"ye","x":720,"y":48.5},{"s":"ye","x":730,"y":48.5},
{"s":"dk","x":380,"y":38},{"s":"dk","x":390,"y":44},{"s":"dk","x":400,"y":49},{"s":"dk","x":410,"y":51},{"s":"dk","x":420,"y":51},{"s":"dk","x":440,"y":51},{"s":"dk","x":460,"y":50.5},{"s":"dk","x":480,"y":50.5},{"s":"dk","x":500,"y":50},{"s":"dk","x":520,"y":49.5},{"s":"dk","x":540,"y":49.5},{"s":"dk","x":560,"y":49},{"s":"dk","x":580,"y":48},{"s":"dk","x":600,"y":47.5},{"s":"dk","x":620,"y":47},{"s":"dk","x":640,"y":47},{"s":"dk","x":660,"y":47},{"s":"dk","x":680,"y":47},{"s":"dk","x":700,"y":47},{"s":"dk","x":720,"y":47},{"s":"dk","x":730,"y":47},
{"s":"dr","x":380,"y":37},{"s":"dr","x":390,"y":44},{"s":"dr","x":400,"y":50},{"s":"dr","x":410,"y":52},{"s":"dr","x":420,"y":52.5},{"s":"dr","x":440,"y":52},{"s":"dr","x":460,"y":51.5},{"s":"dr","x":480,"y":51},{"s":"dr","x":500,"y":51},{"s":"dr","x":520,"y":50.5},{"s":"dr","x":540,"y":50.5},{"s":"dr","x":560,"y":50.5},{"s":"dr","x":580,"y":50.5},{"s":"dr","x":600,"y":50.5},{"s":"dr","x":620,"y":50.5},{"s":"dr","x":640,"y":50.5},{"s":"dr","x":660,"y":50.5},{"s":"dr","x":680,"y":50.5},{"s":"dr","x":700,"y":51},{"s":"dr","x":720,"y":51},{"s":"dr","x":730,"y":51}
],
"p8":[
{"s":"db","x":380,"y":28.5},{"s":"db","x":390,"y":31},{"s":"db","x":400,"y":32.5},{"s":"db","x":410,"y":33},{"s":"db","x":420,"y":33},{"s":"db","x":440,"y":33},{"s":"db","x":460,"y":33},{"s":"db","x":480,"y":32.5},{"s":"db","x":500,"y":32},{"s":"db","x":520,"y":31.5},{"s":"db","x":540,"y":31},{"s":"db","x":560,"y":30.5},{"s":"db","x":580,"y":29.5},{"s":"db","x":600,"y":28.5},{"s":"db","x":620,"y":28},{"s":"db","x":640,"y":27.5},{"s":"db","x":660,"y":28.5},{"s":"db","x":680,"y":31},{"s":"db","x":700,"y":32.5},{"s":"db","x":720,"y":33},{"s":"db","x":730,"y":33.5},
{"s":"dr","x":380,"y":30},{"s":"dr","x":390,"y":34},{"s":"dr","x":400,"y":37},{"s":"dr","x":410,"y":38},{"s":"dr","x":420,"y":38.5},{"s":"dr","x":440,"y":38},{"s":"dr","x":460,"y":37.5},{"s":"dr","x":480,"y":37.5},{"s":"dr","x":500,"y":37},{"s":"dr","x":520,"y":37},{"s":"dr","x":540,"y":37},{"s":"dr","x":560,"y":36.5},{"s":"dr","x":580,"y":36.5},{"s":"dr","x":600,"y":36.5},{"s":"dr","x":620,"y":36.5},{"s":"dr","x":640,"y":36.5},{"s":"dr","x":660,"y":37},{"s":"dr","x":680,"y":37},{"s":"dr","x":700,"y":37},{"s":"dr","x":720,"y":37},{"s":"dr","x":730,"y":37},
{"s":"ye","x":380,"y":32},{"s":"ye","x":390,"y":36},{"s":"ye","x":400,"y":39},{"s":"ye","x":410,"y":40},{"s":"ye","x":420,"y":40},{"s":"ye","x":440,"y":40},{"s":"ye","x":460,"y":39.5},{"s":"ye","x":480,"y":39.5},{"s":"ye","x":500,"y":39.5},{"s":"ye","x":520,"y":39.5},{"s":"ye","x":540,"y":39.5},{"s":"ye","x":560,"y":39.5},{"s":"ye","x":580,"y":39.5},{"s":"ye","x":600,"y":39.5},{"s":"ye","x":620,"y":39.5},{"s":"ye","x":640,"y":39.5},{"s":"ye","x":660,"y":39.5},{"s":"ye","x":680,"y":39.5},{"s":"ye","x":700,"y":39.5},{"s":"ye","x":720,"y":39.5},{"s":"ye","x":730,"y":39.5},
{"s":"mg","x":380,"y":36},{"s":"mg","x":390,"y":43},{"s":"mg","x":400,"y":49.5},{"s":"mg","x":410,"y":52},{"s":"mg","x":420,"y":52.5},{"s":"mg","x":440,"y":52},{"s":"mg","x":460,"y":52},{"s":"mg","x":480,"y":51.5},{"s":"mg","x":500,"y":51},{"s":"mg","x":520,"y":51},{"s":"mg","x":540,"y":50.5},{"s":"mg","x":560,"y":50.5},{"s":"mg","x":580,"y":50.5},{"s":"mg","x":600,"y":50.5},{"s":"mg","x":620,"y":50.5},{"s":"mg","x":640,"y":50.5},{"s":"mg","x":660,"y":50.5},{"s":"mg","x":680,"y":50.5},{"s":"mg","x":700,"y":51},{"s":"mg","x":720,"y":51},{"s":"mg","x":730,"y":51},
{"s":"pu","x":380,"y":36},{"s":"pu","x":390,"y":43},{"s":"pu","x":400,"y":50},{"s":"pu","x":410,"y":52.5},{"s":"pu","x":420,"y":53},{"s":"pu","x":440,"y":53},{"s":"pu","x":460,"y":52.5},{"s":"pu","x":480,"y":52},{"s":"pu","x":500,"y":52},{"s":"pu","x":520,"y":52},{"s":"pu","x":540,"y":51.5},{"s":"pu","x":560,"y":51.5},{"s":"pu","x":580,"y":51.5},{"s":"pu","x":600,"y":51.5},{"s":"pu","x":620,"y":51.5},{"s":"pu","x":640,"y":51.5},{"s":"pu","x":660,"y":52},{"s":"pu","x":680,"y":52.5},{"s":"pu","x":700,"y":53},{"s":"pu","x":720,"y":53.5},{"s":"pu","x":730,"y":53.5},
{"s":"cy","x":380,"y":38},{"s":"cy","x":390,"y":49},{"s":"cy","x":400,"y":58},{"s":"cy","x":410,"y":62},{"s":"cy","x":420,"y":63},{"s":"cy","x":440,"y":62.5},{"s":"cy","x":460,"y":62},{"s":"cy","x":480,"y":61.5},{"s":"cy","x":500,"y":61},{"s":"cy","x":520,"y":60.5},{"s":"cy","x":540,"y":60},{"s":"cy","x":560,"y":59.5},{"s":"cy","x":580,"y":58.5},{"s":"cy","x":600,"y":58},{"s":"cy","x":620,"y":57.5},{"s":"cy","x":640,"y":57},{"s":"cy","x":660,"y":57},{"s":"cy","x":680,"y":56.5},{"s":"cy","x":700,"y":56.5},{"s":"cy","x":720,"y":56},{"s":"cy","x":730,"y":56}
],
"p9":[
{"s":"dr","x":380,"y":21},{"s":"dr","x":390,"y":21},{"s":"dr","x":400,"y":21},{"s":"dr","x":410,"y":21},{"s":"dr","x":420,"y":21},{"s":"dr","x":440,"y":21},{"s":"dr","x":460,"y":21},{"s":"dr","x":480,"y":21},{"s":"dr","x":500,"y":21},{"s":"dr","x":520,"y":21},{"s":"dr","x":540,"y":21.5},{"s":"dr","x":560,"y":21.5},{"s":"dr","x":580,"y":22},{"s":"dr","x":600,"y":22},{"s":"dr","x":620,"y":22.5},{"s":"dr","x":640,"y":22.5},{"s":"dr","x":660,"y":23},{"s":"dr","x":680,"y":23},{"s":"dr","x":700,"y":23},{"s":"dr","x":720,"y":23.5},{"s":"dr","x":730,"y":24},
{"s":"ye","x":380,"y":22},{"s":"ye","x":390,"y":22},{"s":"ye","x":400,"y":22},{"s":"ye","x":410,"y":22},{"s":"ye","x":420,"y":22},{"s":"ye","x":440,"y":22},{"s":"ye","x":460,"y":22},{"s":"ye","x":480,"y":22},{"s":"ye","x":500,"y":22},{"s":"ye","x":520,"y":22},{"s":"ye","x":540,"y":22},{"s":"ye","x":560,"y":22},{"s":"ye","x":580,"y":22.5},{"s":"ye","x":600,"y":22.5},{"s":"ye","x":620,"y":22.5},{"s":"ye","x":640,"y":22.5},{"s":"ye","x":660,"y":22.5},{"s":"ye","x":680,"y":22.5},{"s":"ye","x":700,"y":23},{"s":"ye","x":720,"y":23},{"s":"ye","x":730,"y":23},
{"s":"bl","x":380,"y":23.5},{"s":"bl","x":390,"y":23.5},{"s":"bl","x":400,"y":23.5},{"s":"bl","x":410,"y":23.5},{"s":"bl","x":420,"y":23.5},{"s":"bl","x":440,"y":23.5},{"s":"bl","x":460,"y":23.5},{"s":"bl","x":480,"y":23.5},{"s":"bl","x":500,"y":23.5},{"s":"bl","x":520,"y":23.5},{"s":"bl","x":540,"y":24},{"s":"bl","x":560,"y":24},{"s":"bl","x":580,"y":24.5},{"s":"bl","x":600,"y":24.5},{"s":"bl","x":620,"y":25},{"s":"bl","x":640,"y":25},{"s":"bl","x":660,"y":25},{"s":"bl","x":680,"y":25.5},{"s":"bl","x":700,"y":25.5},{"s":"bl","x":720,"y":25.5},{"s":"bl","x":730,"y":25.5},
{"s":"cy","x":380,"y":24.5},{"s":"cy","x":390,"y":24.5},{"s":"cy","x":400,"y":24.5},{"s":"cy","x":410,"y":24.5},{"s":"cy","x":420,"y":24.5},{"s":"cy","x":440,"y":24.5},{"s":"cy","x":460,"y":24.5},{"s":"cy","x":480,"y":24.5},{"s":"cy","x":500,"y":24.5},{"s":"cy","x":520,"y":25},{"s":"cy","x":540,"y":25},{"s":"cy","x":560,"y":25.5},{"s":"cy","x":580,"y":25.5},{"s":"cy","x":600,"y":26},{"s":"cy","x":620,"y":26},{"s":"cy","x":640,"y":26},{"s":"cy","x":660,"y":26.5},{"s":"cy","x":680,"y":26.5},{"s":"cy","x":700,"y":27},{"s":"cy","x":720,"y":27},{"s":"cy","x":730,"y":27},
{"s":"mg","x":380,"y":25},{"s":"mg","x":390,"y":25.5},{"s":"mg","x":400,"y":25.5},{"s":"mg","x":410,"y":25.5},{"s":"mg","x":420,"y":25.5},{"s":"mg","x":440,"y":25.5},{"s":"mg","x":460,"y":25.5},{"s":"mg","x":480,"y":25.5},{"s":"mg","x":500,"y":25.5},{"s":"mg","x":520,"y":25.5},{"s":"mg","x":540,"y":25.5},{"s":"mg","x":560,"y":25.5},{"s":"mg","x":580,"y":25.5},{"s":"mg","x":600,"y":25.5},{"s":"mg","x":620,"y":25.5},{"s":"mg","x":640,"y":25.5},{"s":"mg","x":660,"y":25.5},{"s":"mg","x":680,"y":25.5},{"s":"mg","x":700,"y":26},{"s":"mg","x":720,"y":26},{"s":"mg","x":730,"y":26},
{"s":"db","x":380,"y":25.5},{"s":"db","x":390,"y":26},{"s":"db","x":400,"y":26},{"s":"db","x":410,"y":26},{"s":"db","x":420,"y":26},{"s":"db","x":440,"y":26},{"s":"db","x":460,"y":26},{"s":"db","x":480,"y":26.5},{"s":"db","x":500,"y":28},{"s":"db","x":520,"y":33},{"s":"db","x":540,"y":33.5},{"s":"db","x":560,"y":33},{"s":"db","x":580,"y":33},{"s":"db","x":600,"y":33},{"s":"db","x":620,"y":33},{"s":"db","x":640,"y":33},{"s":"db","x":660,"y":33},{"s":"db","x":680,"y":33},{"s":"db","x":700,"y":33},{"s":"db","x":720,"y":33.5},{"s":"db","x":730,"y":33.5}
],
"p10":[
{"s":"ye","x":380,"y":22.5},{"s":"ye","x":390,"y":23},{"s":"ye","x":400,"y":23},{"s":"ye","x":410,"y":23},{"s":"ye","x":420,"y":23},{"s":"ye","x":440,"y":23},{"s":"ye","x":460,"y":23},{"s":"ye","x":480,"y":23},{"s":"ye","x":500,"y":23},{"s":"ye","x":520,"y":23},{"s":"ye","x":540,"y":23},{"s":"ye","x":560,"y":23},{"s":"ye","x":580,"y":23},{"s":"ye","x":600,"y":23},{"s":"ye","x":620,"y":23},{"s":"ye","x":640,"y":23},{"s":"ye","x":660,"y":23},{"s":"ye","x":680,"y":23},{"s":"ye","x":700,"y":23},{"s":"ye","x":720,"y":23},{"s":"ye","x":730,"y":23},
{"s":"cy","x":380,"y":23},{"s":"cy","x":390,"y":23.5},{"s":"cy","x":400,"y":23.5},{"s":"cy","x":410,"y":23.5},{"s":"cy","x":420,"y":23.5},{"s":"cy","x":440,"y":23.5},{"s":"cy","x":460,"y":23.5},{"s":"cy","x":480,"y":23.5},{"s":"cy","x":500,"y":23.5},{"s":"cy","x":520,"y":23.5},{"s":"cy","x":540,"y":23.5},{"s":"cy","x":560,"y":24},{"s":"cy","x":580,"y":24},{"s":"cy","x":600,"y":24},{"s":"cy","x":620,"y":24.5},{"s":"cy","x":640,"y":24.5},{"s":"cy","x":660,"y":25},{"s":"cy","x":680,"y":25},{"s":"cy","x":700,"y":25.5},{"s":"cy","x":720,"y":26},{"s":"cy","x":730,"y":26},
{"s":"bl","x":380,"y":24},{"s":"bl","x":390,"y":24.5},{"s":"bl","x":400,"y":24.5},{"s":"bl","x":410,"y":24.5},{"s":"bl","x":420,"y":24.5},{"s":"bl","x":440,"y":24.5},{"s":"bl","x":460,"y":24.5},{"s":"bl","x":480,"y":24.5},{"s":"bl","x":500,"y":24.5},{"s":"bl","x":520,"y":24.5},{"s":"bl","x":540,"y":24.5},{"s":"bl","x":560,"y":24.5},{"s":"bl","x":580,"y":24.5},{"s":"bl","x":600,"y":24.5},{"s":"bl","x":620,"y":25},{"s":"bl","x":640,"y":25},{"s":"bl","x":660,"y":25.5},{"s":"bl","x":680,"y":26},{"s":"bl","x":700,"y":26.5},{"s":"bl","x":720,"y":27},{"s":"bl","x":730,"y":27},
{"s":"dr","x":380,"y":24.5},{"s":"dr","x":390,"y":25},{"s":"dr","x":400,"y":25.5},{"s":"dr","x":410,"y":25.5},{"s":"dr","x":420,"y":25.5},{"s":"dr","x":440,"y":25.5},{"s":"dr","x":460,"y":25.5},{"s":"dr","x":480,"y":25.5},{"s":"dr","x":500,"y":25.5},{"s":"dr","x":520,"y":25.5},{"s":"dr","x":540,"y":25.5},{"s":"dr","x":560,"y":25.5},{"s":"dr","x":580,"y":25.5},{"s":"dr","x":600,"y":25.5},{"s":"dr","x":620,"y":26},{"s":"dr","x":640,"y":26.5},{"s":"dr","x":660,"y":27},{"s":"dr","x":680,"y":27.5},{"s":"dr","x":700,"y":28},{"s":"dr","x":720,"y":28},{"s":"dr","x":730,"y":28.5},
{"s":"mg","x":380,"y":25},{"s":"mg","x":390,"y":26.5},{"s":"mg","x":400,"y":27},{"s":"mg","x":410,"y":27.5},{"s":"mg","x":420,"y":27.5},{"s":"mg","x":440,"y":26.5},{"s":"mg","x":460,"y":26},{"s":"mg","x":480,"y":26},{"s":"mg","x":500,"y":25.5},{"s":"mg","x":520,"y":25.5},{"s":"mg","x":540,"y":25.5},{"s":"mg","x":560,"y":25.5},{"s":"mg","x":580,"y":25.5},{"s":"mg","x":600,"y":26.5},{"s":"mg","x":620,"y":28},{"s":"mg","x":640,"y":28.5},{"s":"mg","x":660,"y":29},{"s":"mg","x":680,"y":29.5},{"s":"mg","x":700,"y":30},{"s":"mg","x":720,"y":30.5},{"s":"mg","x":730,"y":30.5},
{"s":"tl","x":380,"y":28},{"s":"tl","x":390,"y":30},{"s":"tl","x":400,"y":31},{"s":"tl","x":410,"y":31.5},{"s":"tl","x":420,"y":32},{"s":"tl","x":440,"y":32},{"s":"tl","x":460,"y":32.5},{"s":"tl","x":480,"y":33},{"s":"tl","x":500,"y":33},{"s":"tl","x":520,"y":33},{"s":"tl","x":540,"y":33},{"s":"tl","x":560,"y":33},{"s":"tl","x":580,"y":33},{"s":"tl","x":600,"y":33},{"s":"tl","x":620,"y":33},{"s":"tl","x":640,"y":33.5},{"s":"tl","x":660,"y":34},{"s":"tl","x":680,"y":34.5},{"s":"tl","x":700,"y":35},{"s":"tl","x":720,"y":35.5},{"s":"tl","x":730,"y":35.5},
{"s":"pu","x":380,"y":28},{"s":"pu","x":390,"y":29},{"s":"pu","x":400,"y":30.5},{"s":"pu","x":410,"y":31},{"s":"pu","x":420,"y":31.5},{"s":"pu","x":440,"y":32.5},{"s":"pu","x":460,"y":33.5},{"s":"pu","x":480,"y":34},{"s":"pu","x":500,"y":37},{"s":"pu","x":520,"y":45},{"s":"pu","x":540,"y":48.5},{"s":"pu","x":560,"y":49.5},{"s":"pu","x":580,"y":49},{"s":"pu","x":600,"y":48.5},{"s":"pu","x":620,"y":47},{"s":"pu","x":640,"y":46.5},{"s":"pu","x":660,"y":47},{"s":"pu","x":680,"y":47.5},{"s":"pu","x":700,"y":48},{"s":"pu","x":720,"y":48},{"s":"pu","x":730,"y":48},
{"s":"db","x":380,"y":32.5},{"s":"db","x":390,"y":37},{"s":"db","x":400,"y":41},{"s":"db","x":410,"y":43.5},{"s":"db","x":420,"y":44.5},{"s":"db","x":440,"y":44},{"s":"db","x":460,"y":42.5},{"s":"db","x":480,"y":39.5},{"s":"db","x":500,"y":35.5},{"s":"db","x":520,"y":31},{"s":"db","x":540,"y":27.5},{"s":"db","x":560,"y":26},{"s":"db","x":580,"y":25.5},{"s":"db","x":600,"y":26},{"s":"db","x":620,"y":29.5},{"s":"db","x":640,"y":36.5},{"s":"db","x":660,"y":43},{"s":"db","x":680,"y":46.5},{"s":"db","x":700,"y":48},{"s":"db","x":720,"y":48.5},{"s":"db","x":730,"y":49}
]
},
"hconcat":[
{"vconcat":[
{"title":{"text":"White LDR Blocks","offset":15},"width":325,"height":1,"view":{"stroke":null},"data":{"values":[]},"mark":"point","encoding":{}},
{"width":325,"height":162,"data":{"name":"p1"},"encoding":{"x":{"field":"x","type":"quantitative","scale":{"domain":[380,730],"nice":false,"zero":false},"axis":{"values":[380,420,460,500,540,580,620,660,700],"title":["Wavelength (nm)"," "],"titleLineHeight":16}},"y":{"field":"y","type":"quantitative","scale":{"domain":[0,100]},"axis":{"values":[0,20,40,60,80,100],"title":"Lighness (L*)"}},"color":{"field":"s","type":"nominal","legend":null,"scale":{"domain":["bk","bl","cl","cy","db","dc","dk","dr","lc","lg","lv","mg","pu","tl","ye"],"range":["#000000","#0000FF","#1FB8E8","#3FE0F5","#000080","#2A8FA0","#404040","#800000","#A8ECF5","#4ED8A0","#9F9FF5","#FF33FF","#8B1A8B","#008080","#FFE800"]}}},"layer":[{"mark":{"type":"line","strokeWidth":1.4},"encoding":{"strokeDash":{"field":"s","type":"nominal","legend":null,"scale":{"domain":["bk","bl","cl","cy","db","dc","dk","dr","lc","lg","lv","mg","pu","tl","ye"],"range":[[1.5,5],[1,0],[1,0],[1,0],[1,0],[5,3],[4,3],[1,0],[1,0],[1,0],[1,0],[1,0],[1,0],[1,0],[1,0]]}}}},{"mark":{"type":"point","filled":true,"size":28,"strokeWidth":1,"opacity":1},"encoding":{"shape":{"field":"s","type":"nominal","legend":null,"scale":{"domain":["bk","bl","cl","cy","db","dc","dk","dr","lc","lg","lv","mg","pu","tl","ye"],"range":["square","stroke","stroke","M-1,-1L1,1M-1,1L1,-1","diamond","stroke","stroke","circle","stroke","triangle-up","circle","square","M-1,-1L1,1M-1,1L1,-1M0,-1L0,1","M-1,0L1,0M0,-1L0,1","triangle-up"]}},"stroke":{"field":"s","type":"nominal","legend":null,"scale":{"domain":["bk","bl","cl","cy","db","dc","dk","dr","lc","lg","lv","mg","pu","tl","ye"],"range":["#000000","#0000FF","#1FB8E8","#3FE0F5","#000080","#2A8FA0","#404040","#800000","#A8ECF5","#4ED8A0","#9F9FF5","#FF33FF","#8B1A8B","#008080","#FFE800"]}}}}]},
{"title":"Light Gray LDR Blocks","width":325,"height":188,"data":{"name":"p3"},"encoding":{"x":{"field":"x","type":"quantitative","scale":{"domain":[380,730],"nice":false,"zero":false},"axis":{"values":[380,420,460,500,540,580,620,660,700],"title":["Wavelength (nm)"," "],"titleLineHeight":5}},"y":{"field":"y","type":"quantitative","scale":{"domain":[0,100]},"axis":{"values":[0,20,40,60,80,100],"title":"Lighness (L*)"}},"color":{"field":"s","type":"nominal","legend":null,"scale":{"domain":["bk","bl","cl","cy","db","dc","dk","dr","lc","lg","lv","mg","pu","tl","ye"],"range":["#000000","#0000FF","#1FB8E8","#3FE0F5","#000080","#2A8FA0","#404040","#800000","#A8ECF5","#4ED8A0","#9F9FF5","#FF33FF","#8B1A8B","#008080","#FFE800"]}}},"layer":[{"mark":{"type":"line","strokeWidth":1.4},"encoding":{"strokeDash":{"field":"s","type":"nominal","legend":null,"scale":{"domain":["bk","bl","cl","cy","db","dc","dk","dr","lc","lg","lv","mg","pu","tl","ye"],"range":[[1.5,5],[1,0],[1,0],[1,0],[1,0],[5,3],[4,3],[1,0],[1,0],[1,0],[1,0],[1,0],[1,0],[1,0],[1,0]]}}}},{"mark":{"type":"point","filled":true,"size":28,"strokeWidth":1,"opacity":1},"encoding":{"shape":{"field":"s","type":"nominal","legend":null,"scale":{"domain":["bk","bl","cl","cy","db","dc","dk","dr","lc","lg","lv","mg","pu","tl","ye"],"range":["square","stroke","stroke","M-1,-1L1,1M-1,1L1,-1","diamond","stroke","stroke","circle","stroke","triangle-up","circle","square","M-1,-1L1,1M-1,1L1,-1M0,-1L0,1","M-1,0L1,0M0,-1L0,1","triangle-up"]}},"stroke":{"field":"s","type":"nominal","legend":null,"scale":{"domain":["bk","bl","cl","cy","db","dc","dk","dr","lc","lg","lv","mg","pu","tl","ye"],"range":["#000000","#0000FF","#1FB8E8","#3FE0F5","#000080","#2A8FA0","#404040","#800000","#A8ECF5","#4ED8A0","#9F9FF5","#FF33FF","#8B1A8B","#008080","#FFE800"]}}}}]},
{"title":"Middle Gray LDR Blocks","width":325,"height":188,"data":{"name":"p5"},"encoding":{"x":{"field":"x","type":"quantitative","scale":{"domain":[380,730],"nice":false,"zero":false},"axis":{"values":[380,420,460,500,540,580,620,660,700],"title":["Wavelength (nm)"," "],"titleLineHeight":11}},"y":{"field":"y","type":"quantitative","scale":{"domain":[0,100]},"axis":{"values":[0,20,40,60,80,100],"title":"Lighness (L*)"}},"color":{"field":"s","type":"nominal","legend":null,"scale":{"domain":["bk","bl","cl","cy","db","dc","dk","dr","lc","lg","lv","mg","pu","tl","ye"],"range":["#000000","#0000FF","#1FB8E8","#3FE0F5","#000080","#2A8FA0","#404040","#800000","#A8ECF5","#4ED8A0","#9F9FF5","#FF33FF","#8B1A8B","#008080","#FFE800"]}}},"layer":[{"mark":{"type":"line","strokeWidth":1.4},"encoding":{"strokeDash":{"field":"s","type":"nominal","legend":null,"scale":{"domain":["bk","bl","cl","cy","db","dc","dk","dr","lc","lg","lv","mg","pu","tl","ye"],"range":[[1.5,5],[1,0],[1,0],[1,0],[1,0],[5,3],[4,3],[1,0],[1,0],[1,0],[1,0],[1,0],[1,0],[1,0],[1,0]]}}}},{"mark":{"type":"point","filled":true,"size":28,"strokeWidth":1,"opacity":1},"encoding":{"shape":{"field":"s","type":"nominal","legend":null,"scale":{"domain":["bk","bl","cl","cy","db","dc","dk","dr","lc","lg","lv","mg","pu","tl","ye"],"range":["square","triangle-right","stroke","M-1,-1L1,1M-1,1L1,-1","diamond","stroke","stroke","square","stroke","triangle-up","circle","square","M-1,-1L1,1M-1,1L1,-1M0,-1L0,1","M-1,0L1,0M0,-1L0,1","triangle-up"]}},"stroke":{"field":"s","type":"nominal","legend":null,"scale":{"domain":["bk","bl","cl","cy","db","dc","dk","dr","lc","lg","lv","mg","pu","tl","ye"],"range":["#000000","#0000FF","#1FB8E8","#3FE0F5","#000080","#2A8FA0","#404040","#800000","#A8ECF5","#4ED8A0","#9F9FF5","#FF33FF","#8B1A8B","#008080","#FFE800"]}}}}]},
{"title":"Dark Gray LDR Blocks","width":325,"height":189,"data":{"name":"p7"},"encoding":{"x":{"field":"x","type":"quantitative","scale":{"domain":[380,730],"nice":false,"zero":false},"axis":{"values":[380,420,460,500,540,580,620,660,700],"title":["Wavelength (nm)"," "],"titleLineHeight":17}},"y":{"field":"y","type":"quantitative","scale":{"domain":[0,100]},"axis":{"values":[0,20,40,60,80,100],"title":"Lighness (L*)"}},"color":{"field":"s","type":"nominal","legend":null,"scale":{"domain":["bk","bl","cl","cy","db","dc","dk","dr","lc","lg","lv","mg","pu","tl","ye"],"range":["#000000","#0000FF","#1FB8E8","#3FE0F5","#000080","#2A8FA0","#404040","#800000","#A8ECF5","#4ED8A0","#9F9FF5","#FF33FF","#8B1A8B","#008080","#FFE800"]}}},"layer":[{"mark":{"type":"line","strokeWidth":1.4},"encoding":{"strokeDash":{"field":"s","type":"nominal","legend":null,"scale":{"domain":["bk","bl","cl","cy","db","dc","dk","dr","lc","lg","lv","mg","pu","tl","ye"],"range":[[1.5,5],[1,0],[1,0],[1,0],[1,0],[5,3],[1,0],[1,0],[1,0],[1,0],[1,0],[1,0],[1,0],[1,0],[1,0]]}}}},{"mark":{"type":"point","filled":true,"size":28,"strokeWidth":1,"opacity":1},"encoding":{"shape":{"field":"s","type":"nominal","legend":null,"scale":{"domain":["bk","bl","cl","cy","db","dc","dk","dr","lc","lg","lv","mg","pu","tl","ye"],"range":["square","stroke","stroke","M-1,-1L1,1M-1,1L1,-1","diamond","stroke","stroke","circle","stroke","triangle-up","circle","square","M-1,-1L1,1M-1,1L1,-1M0,-1L0,1","M-1,0L1,0M0,-1L0,1","triangle-up"]}},"stroke":{"field":"s","type":"nominal","legend":null,"scale":{"domain":["bk","bl","cl","cy","db","dc","dk","dr","lc","lg","lv","mg","pu","tl","ye"],"range":["#000000","#0000FF","#1FB8E8","#3FE0F5","#000080","#2A8FA0","#404040","#800000","#A8ECF5","#4ED8A0","#9F9FF5","#FF33FF","#8B1A8B","#008080","#FFE800"]}}}}]},
{"title":"Black LDR Blocks","width":325,"height":174,"data":{"name":"p9"},"encoding":{"x":{"field":"x","type":"quantitative","scale":{"domain":[380,730],"nice":false,"zero":false},"axis":{"values":[380,420,460,500,540,580,620,660,700],"title":"Wavelength (nm)"}},"y":{"field":"y","type":"quantitative","scale":{"domain":[0,100]},"axis":{"values":[0,20,40,60,80,100],"title":"Lighness (L*)"}},"color":{"field":"s","type":"nominal","legend":null,"scale":{"domain":["bk","bl","cl","cy","db","dc","dk","dr","lc","lg","lv","mg","pu","tl","ye"],"range":["#000000","#0000FF","#1FB8E8","#3FE0F5","#000080","#2A8FA0","#404040","#800000","#A8ECF5","#4ED8A0","#9F9FF5","#FF33FF","#8B1A8B","#008080","#FFE800"]}}},"layer":[{"mark":{"type":"line","strokeWidth":1.4},"encoding":{"strokeDash":{"field":"s","type":"nominal","legend":null,"scale":{"domain":["bk","bl","cl","cy","db","dc","dk","dr","lc","lg","lv","mg","pu","tl","ye"],"range":[[1.5,5],[1,0],[1,0],[1,0],[1,0],[5,3],[4,3],[1,0],[1,0],[1,0],[1,0],[1,0],[1,0],[1,0],[1,0]]}}}},{"mark":{"type":"point","filled":true,"size":28,"strokeWidth":1,"opacity":1},"encoding":{"shape":{"field":"s","type":"nominal","legend":null,"scale":{"domain":["bk","bl","cl","cy","db","dc","dk","dr","lc","lg","lv","mg","pu","tl","ye"],"range":["square","stroke","stroke","M-1,-1L1,1M-1,1L1,-1","diamond","stroke","stroke","circle","stroke","triangle-up","circle","square","M-1,-1L1,1M-1,1L1,-1M0,-1L0,1","M-1,0L1,0M0,-1L0,1","triangle-up"]}},"stroke":{"field":"s","type":"nominal","legend":null,"scale":{"domain":["bk","bl","cl","cy","db","dc","dk","dr","lc","lg","lv","mg","pu","tl","ye"],"range":["#000000","#0000FF","#1FB8E8","#3FE0F5","#000080","#2A8FA0","#404040","#800000","#A8ECF5","#4ED8A0","#9F9FF5","#FF33FF","#8B1A8B","#008080","#FFE800"]}}}}]}
],"spacing":4},
{"vconcat":[
{"title":"White HDR Blocks","width":323,"height":162,"data":{"name":"p2"},"encoding":{"x":{"field":"x","type":"quantitative","scale":{"domain":[380,730],"nice":false,"zero":false},"axis":{"values":[380,420,460,500,540,580,620,660,700],"title":["Wavelength (nm)"," "],"titleLineHeight":24}},"y":{"field":"y","type":"quantitative","scale":{"domain":[0,100]},"axis":{"values":[0,20,40,60,80,100],"title":"Lighness (L*)"}},"color":{"field":"s","type":"nominal","legend":null,"scale":{"domain":["bk","bl","cl","cy","db","dc","dk","dr","lc","lg","lv","mg","pu","tl","ye"],"range":["#000000","#0000FF","#1FB8E8","#3FE0F5","#000080","#2A8FA0","#404040","#800000","#A8ECF5","#4ED8A0","#9F9FF5","#FF33FF","#8B1A8B","#008080","#FFE800"]}}},"layer":[{"mark":{"type":"line","strokeWidth":1.4},"encoding":{"strokeDash":{"field":"s","type":"nominal","legend":null,"scale":{"domain":["bk","bl","cl","cy","db","dc","dk","dr","lc","lg","lv","mg","pu","tl","ye"],"range":[[1.5,5],[1,0],[1,0],[1,0],[1,0],[5,3],[4,3],[1,0],[1,0],[1,0],[1,0],[1,0],[1,0],[1,0],[1,0]]}}}},{"mark":{"type":"point","filled":true,"size":28,"strokeWidth":1,"opacity":1},"encoding":{"shape":{"field":"s","type":"nominal","legend":null,"scale":{"domain":["bk","bl","cl","cy","db","dc","dk","dr","lc","lg","lv","mg","pu","tl","ye"],"range":["square","stroke","stroke","M-1,-1L1,1M-1,1L1,-1","diamond","stroke","stroke","circle","stroke","triangle-up","circle","square","M-1,-1L1,1M-1,1L1,-1M0,-1L0,1","M-1,0L1,0M0,-1L0,1","triangle-up"]}},"stroke":{"field":"s","type":"nominal","legend":null,"scale":{"domain":["bk","bl","cl","cy","db","dc","dk","dr","lc","lg","lv","mg","pu","tl","ye"],"range":["#000000","#0000FF","#1FB8E8","#3FE0F5","#000080","#2A8FA0","#404040","#800000","#A8ECF5","#4ED8A0","#9F9FF5","#FF33FF","#8B1A8B","#008080","#FFE800"]}}}}]},
{"title":"Light Gray HDR Blocks","width":323,"height":187,"data":{"name":"p4"},"encoding":{"x":{"field":"x","type":"quantitative","scale":{"domain":[380,730],"nice":false,"zero":false},"axis":{"values":[380,420,460,500,540,580,620,660,700],"title":["Wavelength (nm)"," "],"titleLineHeight":5}},"y":{"field":"y","type":"quantitative","scale":{"domain":[0,100]},"axis":{"values":[0,20,40,60,80,100],"title":"Lighness (L*)"}},"color":{"field":"s","type":"nominal","legend":null,"scale":{"domain":["bk","bl","cl","cy","db","dc","dk","dr","lc","lg","lv","mg","pu","tl","ye"],"range":["#000000","#0000FF","#1FB8E8","#3FE0F5","#000080","#2A8FA0","#404040","#800000","#A8ECF5","#4ED8A0","#9F9FF5","#FF33FF","#8B1A8B","#008080","#FFE800"]}}},"layer":[{"mark":{"type":"line","strokeWidth":1.4},"encoding":{"strokeDash":{"field":"s","type":"nominal","legend":null,"scale":{"domain":["bk","bl","cl","cy","db","dc","dk","dr","lc","lg","lv","mg","pu","tl","ye"],"range":[[1.5,5],[1,0],[1,0],[1,0],[1,0],[5,3],[4,3],[1,0],[1,0],[1,0],[1,0],[1,0],[1,0],[1,0],[1,0]]}}}},{"mark":{"type":"point","filled":true,"size":28,"strokeWidth":1,"opacity":1},"encoding":{"shape":{"field":"s","type":"nominal","legend":null,"scale":{"domain":["bk","bl","cl","cy","db","dc","dk","dr","lc","lg","lv","mg","pu","tl","ye"],"range":["square","stroke","stroke","M-1,-1L1,1M-1,1L1,-1","diamond","stroke","stroke","circle","stroke","triangle-up","circle","square","M-1,-1L1,1M-1,1L1,-1M0,-1L0,1","M-1,0L1,0M0,-1L0,1","triangle-up"]}},"stroke":{"field":"s","type":"nominal","legend":null,"scale":{"domain":["bk","bl","cl","cy","db","dc","dk","dr","lc","lg","lv","mg","pu","tl","ye"],"range":["#000000","#0000FF","#1FB8E8","#3FE0F5","#000080","#2A8FA0","#404040","#800000","#A8ECF5","#4ED8A0","#9F9FF5","#FF33FF","#8B1A8B","#008080","#FFE800"]}}}}]},
{"title":"Middle Gray HDR Blocks","width":323,"height":188,"data":{"name":"p6"},"encoding":{"x":{"field":"x","type":"quantitative","scale":{"domain":[380,730],"nice":false,"zero":false},"axis":{"values":[380,420,460,500,540,580,620,660,700],"title":["Wavelength (nm)"," "],"titleLineHeight":7}},"y":{"field":"y","type":"quantitative","scale":{"domain":[0,100]},"axis":{"values":[0,20,40,60,80,100],"title":"Lighness (L*)"}},"color":{"field":"s","type":"nominal","legend":null,"scale":{"domain":["bk","bl","cl","cy","db","dc","dk","dr","lc","lg","lv","mg","pu","tl","ye"],"range":["#000000","#0000FF","#1FB8E8","#3FE0F5","#000080","#2A8FA0","#404040","#800000","#A8ECF5","#4ED8A0","#9F9FF5","#FF33FF","#8B1A8B","#008080","#FFE800"]}}},"layer":[{"mark":{"type":"line","strokeWidth":1.4},"encoding":{"strokeDash":{"field":"s","type":"nominal","legend":null,"scale":{"domain":["bk","bl","cl","cy","db","dc","dk","dr","lc","lg","lv","mg","pu","tl","ye"],"range":[[1.5,5],[1,0],[1,0],[1,0],[1,0],[5,3],[4,3],[1,0],[1,0],[1,0],[1,0],[1,0],[1,0],[1,0],[1,0]]}}}},{"mark":{"type":"point","filled":true,"size":28,"strokeWidth":1,"opacity":1},"encoding":{"shape":{"field":"s","type":"nominal","legend":null,"scale":{"domain":["bk","bl","cl","cy","db","dc","dk","dr","lc","lg","lv","mg","pu","tl","ye"],"range":["square","stroke","stroke","M-1,-1L1,1M-1,1L1,-1","diamond","stroke","stroke","triangle-up","stroke","triangle-up","circle","square","M-1,-1L1,1M-1,1L1,-1M0,-1L0,1","M-1,0L1,0M0,-1L0,1","triangle-up"]}},"stroke":{"field":"s","type":"nominal","legend":null,"scale":{"domain":["bk","bl","cl","cy","db","dc","dk","dr","lc","lg","lv","mg","pu","tl","ye"],"range":["#000000","#0000FF","#1FB8E8","#3FE0F5","#000080","#2A8FA0","#404040","#800000","#A8ECF5","#4ED8A0","#9F9FF5","#FF33FF","#8B1A8B","#008080","#FFE800"]}}}}]},
{"title":"Dark Gray HDR Blocks","width":323,"height":187,"data":{"name":"p8"},"encoding":{"x":{"field":"x","type":"quantitative","scale":{"domain":[380,730],"nice":false,"zero":false},"axis":{"values":[380,420,460,500,540,580,620,660,700],"title":["Wavelength (nm)"," "],"titleLineHeight":13}},"y":{"field":"y","type":"quantitative","scale":{"domain":[0,100]},"axis":{"values":[0,20,40,60,80,100],"title":"Lighness (L*)"}},"color":{"field":"s","type":"nominal","legend":null,"scale":{"domain":["bk","bl","cl","cy","db","dc","dk","dr","lc","lg","lv","mg","pu","tl","ye"],"range":["#000000","#0000FF","#1FB8E8","#3FE0F5","#000080","#2A8FA0","#404040","#800000","#A8ECF5","#4ED8A0","#9F9FF5","#FF33FF","#8B1A8B","#008080","#FFE800"]}}},"layer":[{"mark":{"type":"line","strokeWidth":1.4},"encoding":{"strokeDash":{"field":"s","type":"nominal","legend":null,"scale":{"domain":["bk","bl","cl","cy","db","dc","dk","dr","lc","lg","lv","mg","pu","tl","ye"],"range":[[1.5,5],[1,0],[1,0],[1,0],[1,0],[5,3],[4,3],[1,0],[1,0],[1,0],[1,0],[1,0],[1,0],[1,0],[1,0]]}}}},{"mark":{"type":"point","filled":true,"size":28,"strokeWidth":1,"opacity":1},"encoding":{"shape":{"field":"s","type":"nominal","legend":null,"scale":{"domain":["bk","bl","cl","cy","db","dc","dk","dr","lc","lg","lv","mg","pu","tl","ye"],"range":["square","stroke","stroke","M-1,-1L1,1M-1,1L1,-1","diamond","stroke","stroke","circle","stroke","triangle-up","circle","square","M-1,-1L1,1M-1,1L1,-1M0,-1L0,1","M-1,0L1,0M0,-1L0,1","triangle-up"]}},"stroke":{"field":"s","type":"nominal","legend":null,"scale":{"domain":["bk","bl","cl","cy","db","dc","dk","dr","lc","lg","lv","mg","pu","tl","ye"],"range":["#000000","#0000FF","#1FB8E8","#3FE0F5","#000080","#2A8FA0","#404040","#800000","#A8ECF5","#4ED8A0","#9F9FF5","#FF33FF","#8B1A8B","#008080","#FFE800"]}}}}]},
{"title":"Black HDR Blocks","width":323,"height":173,"data":{"name":"p10"},"encoding":{"x":{"field":"x","type":"quantitative","scale":{"domain":[380,730],"nice":false,"zero":false},"axis":{"values":[380,420,460,500,540,580,620,660,700],"title":"Wavelength (nm)"}},"y":{"field":"y","type":"quantitative","scale":{"domain":[0,100]},"axis":{"values":[0,20,40,60,80,100],"title":"Lighness (L*)"}},"color":{"field":"s","type":"nominal","legend":null,"scale":{"domain":["bk","bl","cl","cy","db","dc","dk","dr","lc","lg","lv","mg","pu","tl","ye"],"range":["#000000","#0000FF","#1FB8E8","#3FE0F5","#000080","#2A8FA0","#404040","#800000","#A8ECF5","#4ED8A0","#9F9FF5","#FF33FF","#8B1A8B","#008080","#FFE800"]}}},"layer":[{"mark":{"type":"line","strokeWidth":1.4},"encoding":{"strokeDash":{"field":"s","type":"nominal","legend":null,"scale":{"domain":["bk","bl","cl","cy","db","dc","dk","dr","lc","lg","lv","mg","pu","tl","ye"],"range":[[1.5,5],[1,0],[1,0],[1,0],[1,0],[5,3],[4,3],[1,0],[1,0],[1,0],[1,0],[1,0],[1,0],[1,0],[1,0]]}}}},{"mark":{"type":"point","filled":true,"size":28,"strokeWidth":1,"opacity":1},"encoding":{"shape":{"field":"s","type":"nominal","legend":null,"scale":{"domain":["bk","bl","cl","cy","db","dc","dk","dr","lc","lg","lv","mg","pu","tl","ye"],"range":["square","stroke","stroke","M-1,-1L1,1M-1,1L1,-1","diamond","stroke","stroke","circle","stroke","triangle-up","circle","square","M-1,-1L1,1M-1,1L1,-1M0,-1L0,1","M-1,0L1,0M0,-1L0,1","triangle-up"]}},"stroke":{"field":"s","type":"nominal","legend":null,"scale":{"domain":["bk","bl","cl","cy","db","dc","dk","dr","lc","lg","lv","mg","pu","tl","ye"],"range":["#000000","#0000FF","#1FB8E8","#3FE0F5","#000080","#2A8FA0","#404040","#800000","#A8ECF5","#4ED8A0","#9F9FF5","#FF33FF","#8B1A8B","#008080","#FFE800"]}}}}]}
],"spacing":8}
],
"spacing":26
}
